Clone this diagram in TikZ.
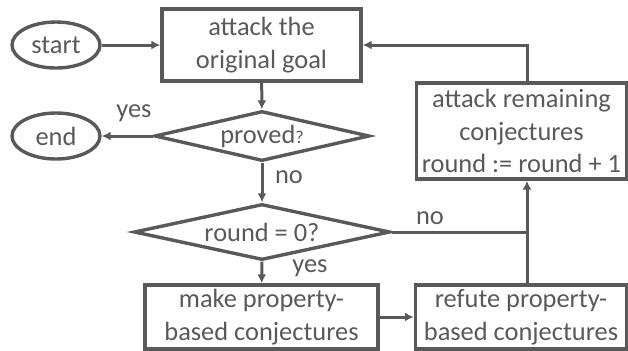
\documentclass[tikz,border=0pt]{standalone}
\usepackage{fontspec}
\setmainfont{Carlito}
\usetikzlibrary{shapes.geometric,arrows.meta}
\definecolor{ink}{HTML}{595959}

\begin{document}
\begin{tikzpicture}[x=0.5pt,y=-0.5pt,font=\fontsize{13.2}{16.3}\selectfont,color=ink]
    \tikzstyle{B}=[rectangle,draw=ink,line width=1.7pt,align=center,inner sep=0pt]
    \tikzstyle{E}=[ellipse,draw=ink,line width=1.7pt,minimum width=44pt,minimum height=23pt,inner sep=0pt]
    \tikzstyle{D}=[diamond,draw=ink,line width=1.7pt,inner sep=0pt]
    \tikzstyle{A}=[-{Latex[length=4.5pt,width=4.5pt]},line width=1.5pt,draw=ink]

    \useasboundingbox (0,0) rectangle (628,350);

    % Start and end
    \node [E] (start) at (56,45) {start};
    \node [E] (stop) at (56,136) {end};

    % Boxes
    \node [B,minimum width=99.5pt,minimum height=36pt] (goal) at (261.5,45) {attack the\\original goal};
    \node [B,minimum width=105pt,minimum height=48pt] (remaining) at (521.5,131) {attack remaining\\conjectures\\round := round + 1};
    \node [B,minimum width=116.5pt,minimum height=32pt] (make) at (261.5,317) {make property-\\based conjectures};
    \node [B,minimum width=105.5pt,minimum height=32pt] (refute) at (521,317) {refute property-\\based conjectures};

    % Decisions
    \node [D,aspect=4.3,minimum width=107.5pt,minimum height=25pt] (proved) at (262,136) {\raisebox{-1.5pt}{proved{\fontsize{9}{10}\selectfont ?}}};
    \node [D,aspect=4.57,minimum width=128pt,minimum height=28pt] (round) at (262,232) {round = 0?};

    % Labels
    \node (yes1) at (134,113) {yes};
    \node (no1) at (289,177) {no};
    \node (no2) at (430,218) {no};
    \node (yes2) at (310,268) {yes};

    % Arrows
    \draw [A] (start) -- (goal);
    \draw [A] (goal) -- (proved);
    \draw [A] (proved) -- (stop);
    \draw [A] (proved) -- (round);
    \draw [A] (round) -- (make);
    \draw [A] (make) -- (refute);

    \coordinate (j) at (527,232);
    \draw [line width=1.5pt,draw=ink] (round) -- (j);
    \draw [A] (refute.north -| j) -- (remaining.south -| j);
    \draw [A] (remaining.north -| j) |- (goal);
\end{tikzpicture}
\end{document}
